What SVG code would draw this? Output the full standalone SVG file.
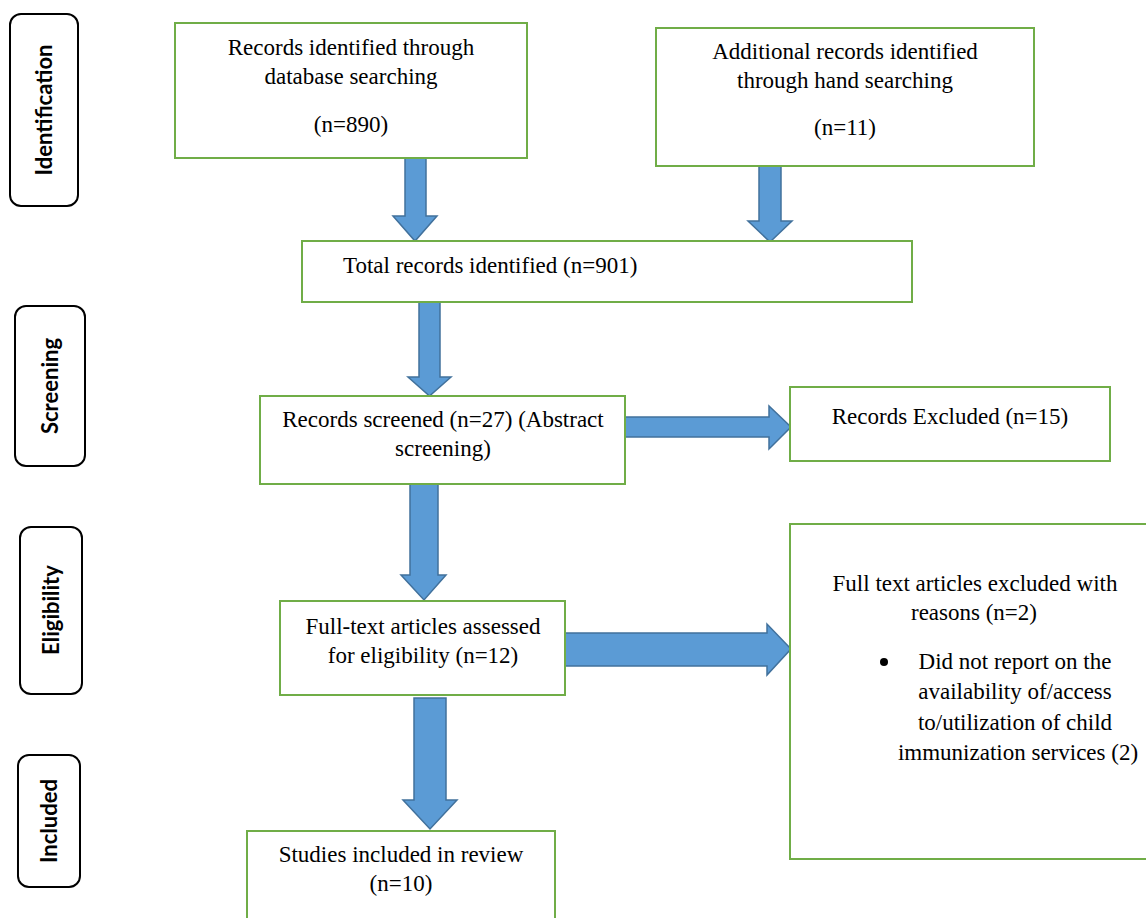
<svg xmlns="http://www.w3.org/2000/svg" width="1146" height="918" viewBox="0 0 1146 918">
<style>
.box{fill:#fff;stroke:#70AD47;stroke-width:2}
.lbl{fill:#fff;stroke:#000;stroke-width:2}
.arr{fill:#5B9BD5;stroke:#41719C;stroke-width:1.5;stroke-linejoin:miter}
.t{font-family:"Liberation Serif","Times New Roman",serif;font-size:23px;fill:#000}
.c{text-anchor:middle}
.s{font-family:Lato,"Open Sans",sans-serif;font-weight:bold;font-size:22px;fill:#000;text-anchor:middle}
</style>
<rect width="1146" height="918" fill="#fff"/>
<g id="lbl-identification"><rect class="lbl" x="10" y="14" width="68" height="192" rx="11"/><text class="s" transform="translate(44,110) rotate(-90)" y="8">Identification</text></g>
<g id="lbl-screening"><rect class="lbl" x="15" y="306" width="70" height="160" rx="11"/><text class="s" transform="translate(50,386) rotate(-90)" y="8">Screening</text></g>
<g id="lbl-eligibility"><rect class="lbl" x="20" y="527" width="62" height="167" rx="11"/><text class="s" transform="translate(51,610) rotate(-90)" y="8">Eligibility</text></g>
<g id="lbl-included"><rect class="lbl" x="18" y="755" width="62" height="132" rx="11"/><text class="s" transform="translate(49,821) rotate(-90)" y="8">Included</text></g>

<g id="connectors">
<polygon class="arr" points="405,158 426,158 426,216 437,216 415,241 393,216 405,216"/>
<polygon class="arr" points="759,166 781,166 781,221 792,221 770,242 748,221 759,221"/>
<polygon class="arr" points="419,302 440,302 440,377 451,377 429.5,396 408,377 419,377"/>
<polygon class="arr" points="625,417 769,417 769,406 791,427 769,449 769,437 625,437"/>
<polygon class="arr" points="410,484 438,484 438,575 446,575 424,600 401,575 410,575"/>
<polygon class="arr" points="565,633 767,633 767,624 791,649 767,675 767,666 565,666"/>
<polygon class="arr" points="414,698 446,698 446,800 457,800 430,829 403,800 414,800"/>
</g>

<g id="n-database"><rect class="box" x="175" y="23" width="352" height="135"/>
<text class="t c" x="351" y="55">Records identified through</text>
<text class="t c" x="351" y="84">database searching</text>
<text class="t c" x="351" y="132">(n=890)</text></g>
<g id="n-hand"><rect class="box" x="656" y="28" width="378" height="138"/>
<text class="t c" x="845" y="59">Additional records identified</text>
<text class="t c" x="845" y="88">through hand searching</text>
<text class="t c" x="845" y="135">(n=11)</text></g>
<g id="n-total"><rect class="box" x="302" y="241" width="610" height="61"/>
<text class="t" x="343" y="273">Total records identified (n=901)</text></g>
<g id="n-screened"><rect class="box" x="260" y="396" width="365" height="88"/>
<text class="t c" x="443" y="427">Records screened (n=27) (Abstract</text>
<text class="t c" x="443" y="456">screening)</text></g>
<g id="n-excluded"><rect class="box" x="790" y="387" width="320" height="74"/>
<text class="t c" x="950" y="424">Records Excluded (n=15)</text></g>
<g id="n-assessed"><rect class="box" x="280" y="601" width="285" height="94"/>
<text class="t c" x="423" y="634">Full-text articles assessed</text>
<text class="t c" x="423" y="663">for eligibility (n=12)</text></g>
<g id="n-reasons"><rect class="box" x="790" y="524" width="370" height="335"/>
<text class="t c" x="975" y="591">Full text articles excluded with</text>
<text class="t c" x="974" y="620">reasons (n=2)</text>
<circle cx="884" cy="662" r="4" fill="#000"/>
<text class="t c" x="1015" y="669">Did not report on the</text>
<text class="t c" x="1015" y="699">availability of/access</text>
<text class="t c" x="1015" y="730">to/utilization of child</text>
<text class="t c" x="1018" y="760">immunization services (2)</text></g>
<g id="n-included"><rect class="box" x="247" y="831" width="308" height="100"/>
<text class="t c" x="401" y="862">Studies included in review</text>
<text class="t c" x="401" y="891">(n=10)</text></g>
</svg>
